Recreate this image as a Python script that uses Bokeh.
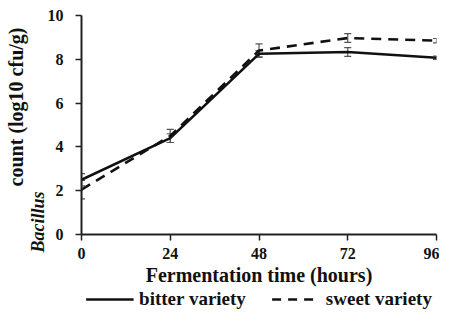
import numpy as np
from bokeh.plotting import figure
from bokeh.layouts import column
from bokeh.models import (ColumnDataSource, Whisker, TeeHead, Legend, LegendItem, Label,
                          FixedTicker, Range1d)
from bokeh.embed import file_html
from bokeh.resources import INLINE

hours = [0, 24, 48, 72, 96]
bitter = [2.5, 4.4, 8.25, 8.33, 8.07]
bitter_err = [0.28, 0.2, 0.15, 0.2, 0.08]
sweet = [2.05, 4.5, 8.4, 8.97, 8.85]
sweet_err = [0.42, 0.3, 0.3, 0.2, 0.1]
x_ticks = [0, 24, 48, 72, 96]
y_ticks = [0, 2, 4, 6, 8, 10]
series_names = ["bitter variety", "sweet variety"]

FONT = "Liberation Serif"
INK = "#111111"

p = figure(width=439, height=288, x_range=(0, 96), y_range=(0, 10),
           output_backend="svg", toolbar_location=None,
           min_border_left=81, min_border_right=3, min_border_top=15, min_border_bottom=0)
p.grid.visible = False
p.outline_line_color = None

src_b = ColumnDataSource(dict(x=hours, y=bitter,
                              lo=[v - e for v, e in zip(bitter, bitter_err)],
                              hi=[v + e for v, e in zip(bitter, bitter_err)]))
src_s = ColumnDataSource(dict(x=hours, y=sweet,
                              lo=[v - e for v, e in zip(sweet, sweet_err)],
                              hi=[v + e for v, e in zip(sweet, sweet_err)]))

for src in (src_b, src_s):
    w = Whisker(source=src, base="x", upper="hi", lower="lo", line_color="#555555", line_width=1.2,
                upper_head=TeeHead(size=7, line_color="#555555", line_width=1.2),
                lower_head=TeeHead(size=7, line_color="#555555", line_width=1.2))
    p.add_layout(w)

p.line("x", "y", source=src_b, line_color=INK, line_width=2.6)
p.line("x", "y", source=src_s, line_color=INK, line_width=2.6, line_dash="10 7")

for ax in (p.xaxis[0], p.yaxis[0]):
    ax.axis_line_color = "#222222"
    ax.axis_line_width = 2
    ax.major_tick_line_color = "#222222"
    ax.major_tick_line_width = 1.5
    ax.major_tick_out = 6
    ax.major_tick_in = 0
    ax.minor_tick_line_color = None
    ax.major_label_text_font = FONT
    ax.major_label_text_font_style = "bold"
    ax.major_label_text_font_size = "16px"
    ax.major_label_text_color = INK

p.xaxis.ticker = FixedTicker(ticks=x_ticks)
p.yaxis.ticker = FixedTicker(ticks=y_ticks)
p.xaxis.major_label_standoff = 7
p.yaxis.major_label_standoff = 12
p.xaxis.axis_label = "Fermentation time (hours)"
p.xaxis.axis_label_text_font = FONT
p.xaxis.axis_label_text_font_style = "bold"
p.xaxis.axis_label_text_font_size = "20px"
p.xaxis.axis_label_text_color = INK
p.xaxis.axis_label_standoff = 2

lab1 = Label(x=13, y=-18, x_units="screen", y_units="screen", text="Bacillus", angle=np.pi / 2,
             text_align="left", text_baseline="middle", text_font=FONT,
             text_font_style="bold italic", text_font_size="18px", text_color=INK)
lab2 = Label(x=13, y=207, x_units="screen", y_units="screen", text="count (log10 cfu/g)",
             angle=np.pi / 2, text_align="right", text_baseline="middle", text_font=FONT,
             text_font_style="bold", text_font_size="20px", text_color=INK)
p.add_layout(lab1, "left")
p.add_layout(lab2, "left")

# legend strip (separate figure below the chart)
q = figure(width=439, height=22, x_range=Range1d(0, 1), y_range=Range1d(100, 101),
           output_backend="svg", toolbar_location=None,
           x_axis_location=None, y_axis_location=None,
           min_border_left=0, min_border_right=0, min_border_top=0, min_border_bottom=0)
q.grid.visible = False
q.outline_line_color = None
lb = q.line(hours, bitter, line_color=INK, line_width=2.6)
ls = q.line(hours, sweet, line_color=INK, line_width=2.6, line_dash="9 7")
legend = Legend(items=[LegendItem(label=series_names[0], renderers=[lb]),
                       LegendItem(label=series_names[1], renderers=[ls])],
                orientation="horizontal", location="center",
                label_text_font=FONT, label_text_font_style="bold", label_text_font_size="19px",
                label_text_color=INK, glyph_width=48, glyph_height=14, label_standoff=6,
                spacing=26, padding=0, margin=0, border_line_color=None, background_fill_alpha=0,
                label_height=14)
q.add_layout(legend)

layout = column(p, q, spacing=0)
open("out.html", "w").write(file_html(layout, INLINE))
